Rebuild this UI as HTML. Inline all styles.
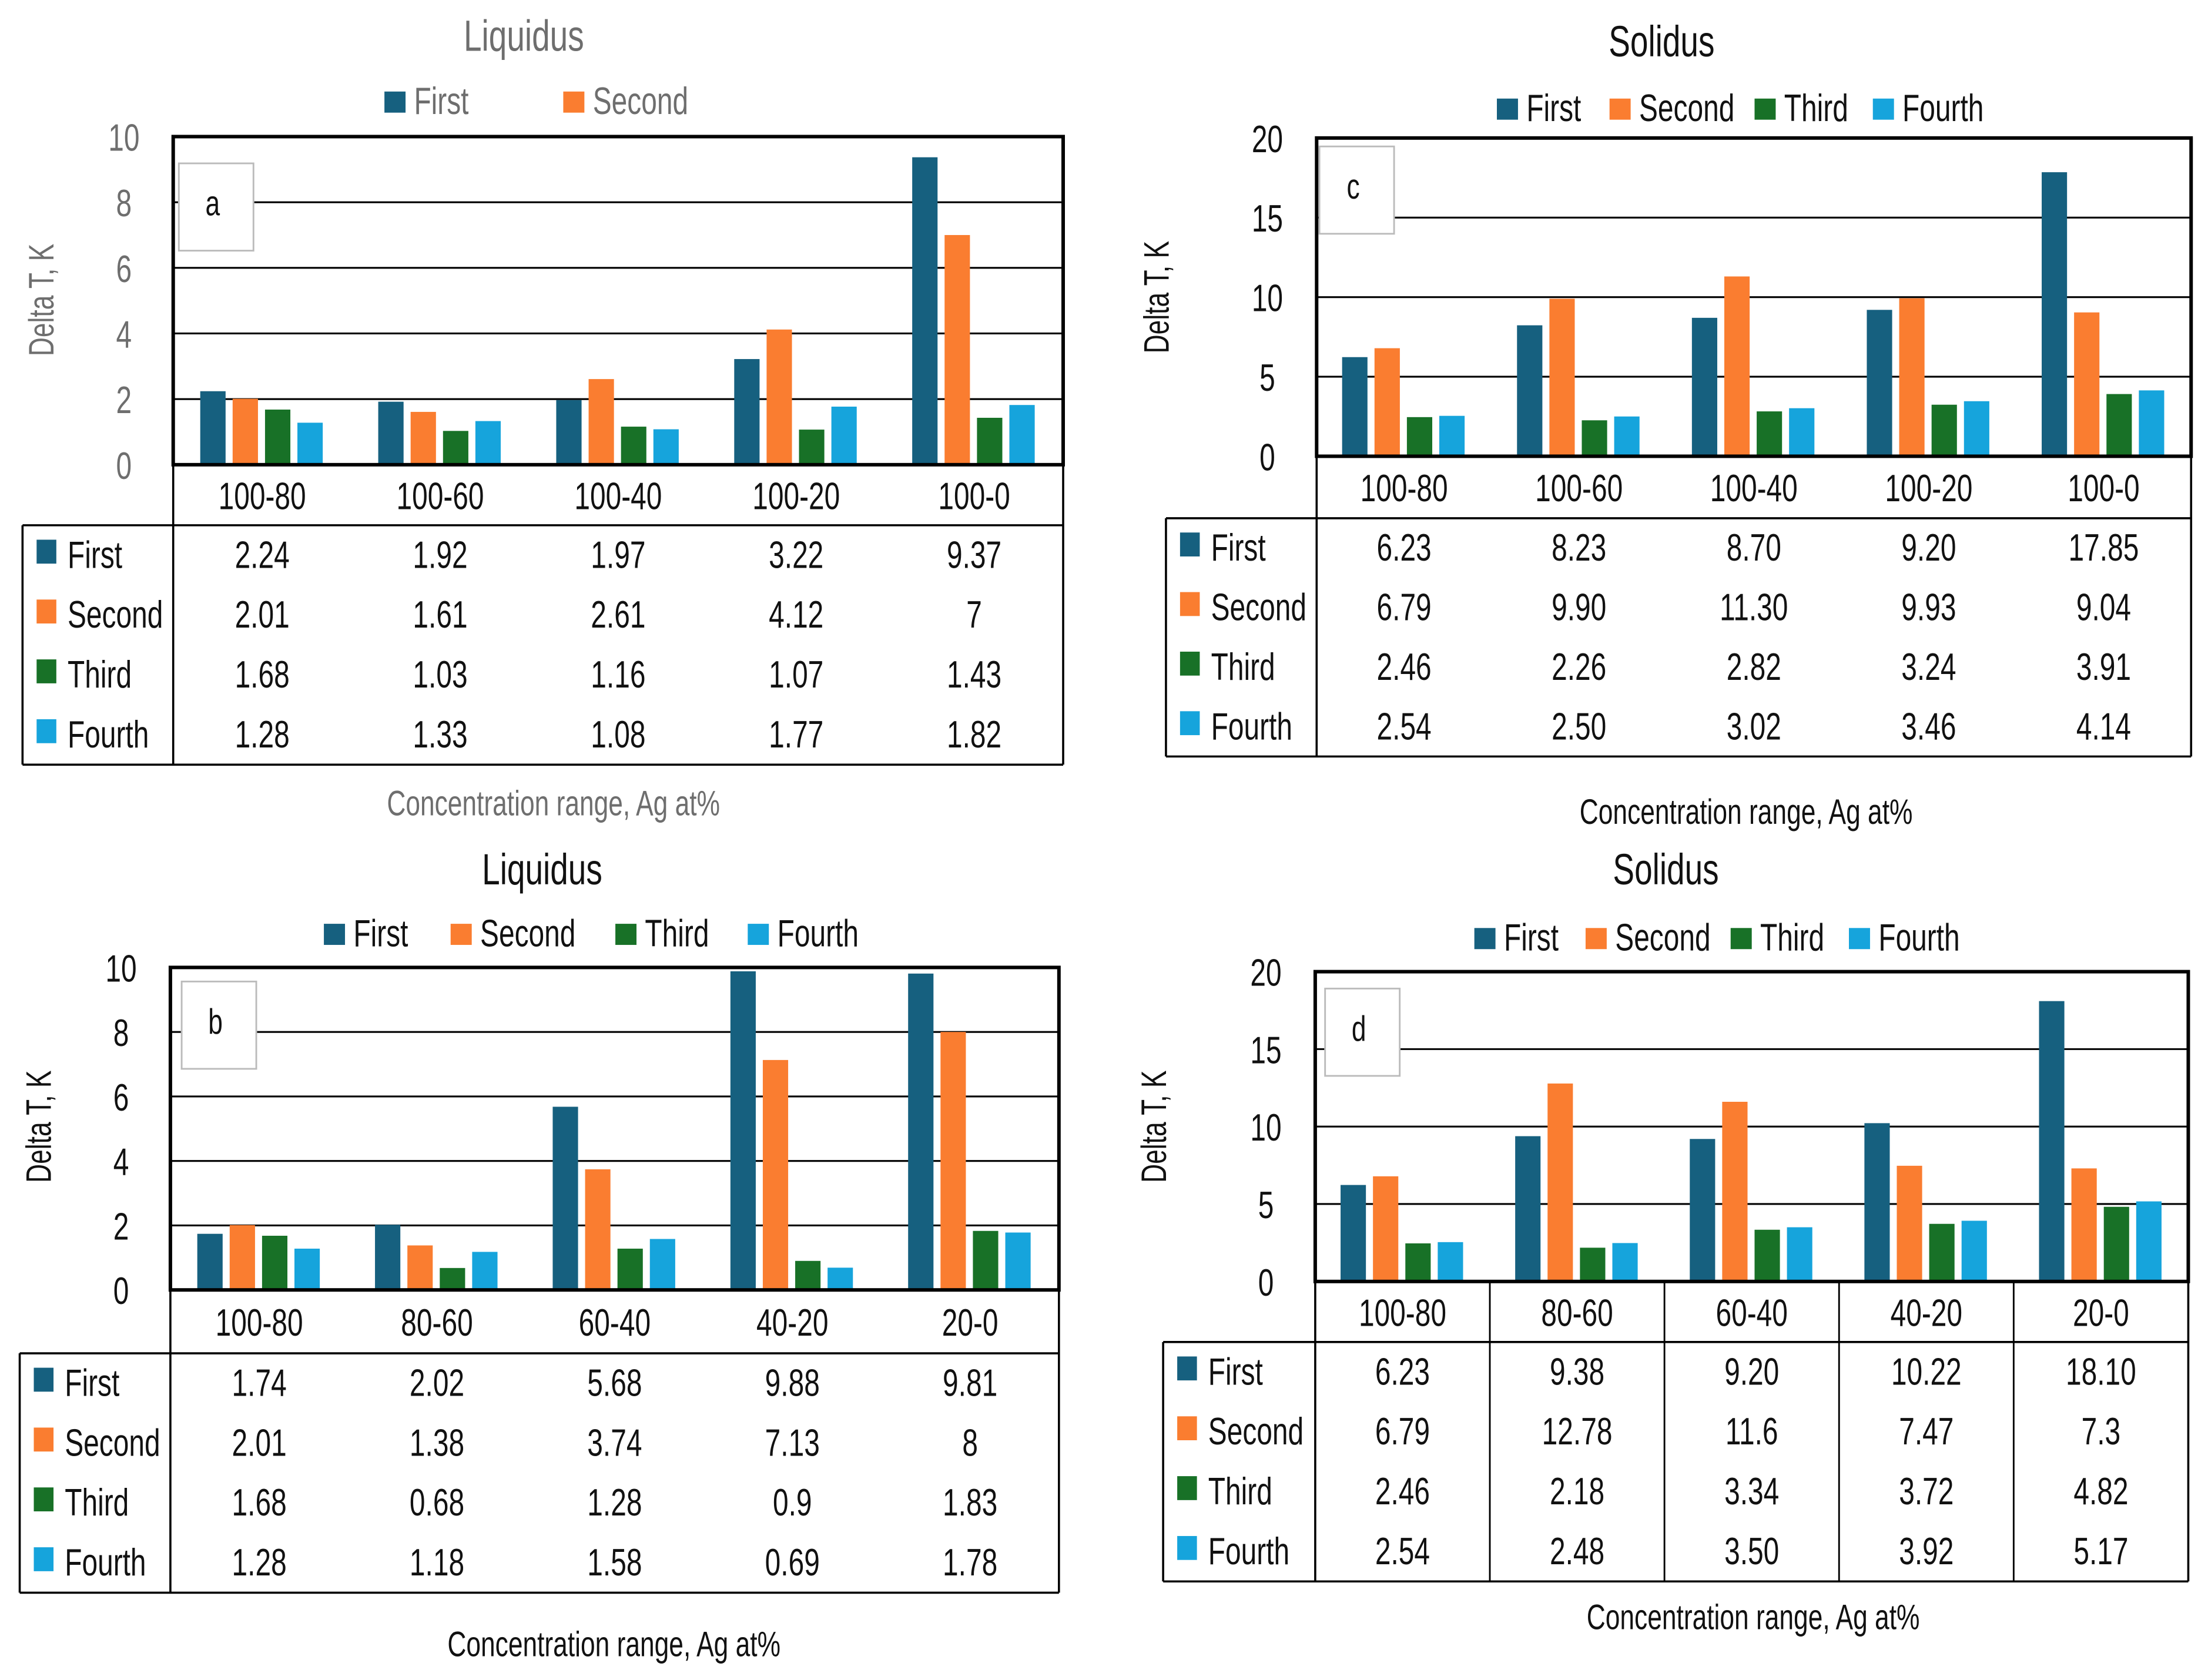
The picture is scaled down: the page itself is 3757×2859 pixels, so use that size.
<!DOCTYPE html>
<html><head><meta charset="utf-8"><style>
html,body{margin:0;padding:0;background:#fff;}
svg{display:block;}
text{font-family:"Liberation Sans Narrow","Liberation Sans",sans-serif;}
</style></head><body>
<svg id="root" width="3757" height="2859" viewBox="0 0 1568 1193" preserveAspectRatio="none" xmlns="http://www.w3.org/2000/svg"></svg>
<script>
const seriesNames = ["First","Second","Third","Fourth"];
const colors = ["#16607f","#fa7d30","#187127","#16a4dc"];

const catsA = ["100-80","100-60","100-40","100-20","100-0"];
const firstA = [2.24,1.92,1.97,3.22,9.37];
const secondA = [2.01,1.61,2.61,4.12,7];
const thirdA = [1.68,1.03,1.16,1.07,1.43];
const fourthA = [1.28,1.33,1.08,1.77,1.82];
const labelsA = [["2.24","1.92","1.97","3.22","9.37"],["2.01","1.61","2.61","4.12","7"],["1.68","1.03","1.16","1.07","1.43"],["1.28","1.33","1.08","1.77","1.82"]];

const catsB = ["100-80","80-60","60-40","40-20","20-0"];
const firstB = [1.74,2.02,5.68,9.88,9.81];
const secondB = [2.01,1.38,3.74,7.13,8];
const thirdB = [1.68,0.68,1.28,0.9,1.83];
const fourthB = [1.28,1.18,1.58,0.69,1.78];
const labelsB = [["1.74","2.02","5.68","9.88","9.81"],["2.01","1.38","3.74","7.13","8"],["1.68","0.68","1.28","0.9","1.83"],["1.28","1.18","1.58","0.69","1.78"]];

const catsC = ["100-80","100-60","100-40","100-20","100-0"];
const firstC = [6.23,8.23,8.70,9.20,17.85];
const secondC = [6.79,9.90,11.30,9.93,9.04];
const thirdC = [2.46,2.26,2.82,3.24,3.91];
const fourthC = [2.54,2.50,3.02,3.46,4.14];
const labelsC = [["6.23","8.23","8.70","9.20","17.85"],["6.79","9.90","11.30","9.93","9.04"],["2.46","2.26","2.82","3.24","3.91"],["2.54","2.50","3.02","3.46","4.14"]];

const catsD = ["100-80","80-60","60-40","40-20","20-0"];
const firstD = [6.23,9.38,9.20,10.22,18.10];
const secondD = [6.79,12.78,11.6,7.47,7.3];
const thirdD = [2.46,2.18,3.34,3.72,4.82];
const fourthD = [2.54,2.48,3.50,3.92,5.17];
const labelsD = [["6.23","9.38","9.20","10.22","18.10"],["6.79","12.78","11.6","7.47","7.3"],["2.46","2.18","3.34","3.72","4.82"],["2.54","2.48","3.50","3.92","5.17"]];

const ticks10 = [0,2,4,6,8,10];
const ticks20 = [0,5,10,15,20];

const NS="http://www.w3.org/2000/svg";
const root=document.getElementById('root');
const SX=0.74;
function mk(tag,attrs,parent,txt){const e=document.createElementNS(NS,tag);for(const k in attrs)e.setAttribute(k,attrs[k]);if(txt!==undefined)e.textContent=txt;(parent||root).appendChild(e);return e;}
function tx(x,y,s,size,fill,anchor,parent,rot){
  const tr=rot?`translate(${x},${y}) rotate(-90) scale(${SX},1)`:`translate(${x},${y}) scale(${SX},1)`;
  return mk('text',{x:0,y:0,transform:tr,'font-size':size,fill:fill,'text-anchor':anchor||'start'},parent,s);
}

function panel(p){
  const g=mk('g',{});
  
  
  const tc=p.gray?'#6e6e6e':'#111';
  const t=tx(p.titleX,p.titleY,p.title,31,tc,'middle',g);
  
  
  const lg=mk('g',{},g);
  
  
  p.legend.forEach((it,i)=>{
    const e=mk('g',{},lg);
    
    
    const lx=p.legX[i];
    mk('rect',{x:lx,y:p.legY-16,width:15,height:15,fill:colors[it]},e);
    tx(lx+21,p.legY,seriesNames[it],27,tc,'start',e);
  });
  const x0=p.x0,x1=p.x1,y0=p.y0,y1=p.y1,max=p.max;
  const cw=(x1-x0)/5;
  const ys=v=>y1-(v/max)*(y1-y0);
  p.ticks.forEach(v=>{
    if(v>0&&v<max){const l=mk('line',{x1:x0,x2:x1,y1:ys(v),y2:ys(v),stroke:'#000','stroke-width':1.3},g);
      }
    const tt=tx(x0-35,ys(v)+10,String(v),27,tc,'middle',g);
    
  });
  const lb=mk('g',{},g);
  
  
  mk('rect',{x:p.lbl[0],y:p.lbl[1],width:53,height:62,fill:'#fff',stroke:'#bbb','stroke-width':1.2},lb);
  tx(p.lbl[0]+24,p.lbl[1]+37,p.id,25,'#111','middle',lb);
  p.series.forEach((arr,si)=>{
    arr.forEach((v,ci)=>{
      const cx=x0+cw*(ci+0.5);
      const bx=cx-44+si*23;
      const r=mk('rect',{x:bx,y:ys(v),width:18,height:y1-ys(v),fill:colors[si]},g);
      
      
    });
  });
  mk('rect',{x:x0,y:y0,width:x1-x0,height:y1-y0,fill:'none',stroke:'#000','stroke-width':2.5},g);
  const tb=mk('g',{},g);
  
  
  const tl=p.tl, hr=p.hdr, rh=p.rh;
  const bottom=hr+4*rh;
  mk('line',{x1:x0,x2:x0,y1:y1,y2:bottom,stroke:'#000','stroke-width':1.5},tb);
  mk('line',{x1:x1,x2:x1,y1:y1,y2:bottom,stroke:'#000','stroke-width':1.5},tb);
  mk('line',{x1:tl,x2:x1,y1:hr,y2:hr,stroke:'#000','stroke-width':1.5},tb);
  mk('line',{x1:tl,x2:x1,y1:bottom,y2:bottom,stroke:'#000','stroke-width':1.5},tb);
  mk('line',{x1:tl,x2:tl,y1:hr,y2:bottom,stroke:'#000','stroke-width':1.5},tb);
  if(p.vsep){for(let i=1;i<5;i++)mk('line',{x1:x0+cw*i,x2:x0+cw*i,y1:y1,y2:bottom,stroke:'#000','stroke-width':1.2},tb);}
  p.cats.forEach((c,ci)=>{
    const ct=tx(x0+cw*(ci+0.5),(y1+hr)/2+10,c,27,'#111','middle',tb);
    
  });
  seriesNames.forEach((n,si)=>{
    const cy=hr+rh*(si+0.5);
    mk('rect',{x:tl+10,y:cy-11,width:14,height:17,fill:colors[si]},tb);
    tx(tl+32,cy+9,n,27,'#111','start',tb);
    p.labels[si].forEach((lv,ci)=>{
      tx(x0+cw*(ci+0.5),cy+9,lv,27,'#111','middle',tb);
    });
  });
  const xt=tx(p.xtX,p.xtY,'Concentration range, Ag at%',25,tc,'middle',g);
  
  const yt=tx(p.ytX,p.ytY,'Delta T, K',25,tc,'middle',g,true);
  
}

panel({id:'a',gray:true,title:'Liquidus',titleX:372,titleY:36,legend:[0,1],legX:[273,400],legY:81,
  x0:123,x1:755,y0:97,y1:330,max:10,ticks:ticks10,lbl:[127,116],cats:catsA,
  series:[firstA,secondA,thirdA,fourthA],labels:labelsA,tl:16,hdr:373,rh:42.5,vsep:false,
  xtX:393,xtY:579,ytX:38,ytY:213});
panel({id:'c',gray:false,title:'Solidus',titleX:1180,titleY:40,legend:[0,1,2,3],legX:[1063,1143,1246,1330],legY:86,
  x0:935,x1:1556,y0:98,y1:324,max:20,ticks:ticks20,lbl:[937,104],cats:catsC,
  series:[firstC,secondC,thirdC,fourthC],labels:labelsC,tl:828,hdr:368,rh:42.3,vsep:false,
  xtX:1240,xtY:585,ytX:830,ytY:211});
panel({id:'b',gray:false,title:'Liquidus',titleX:385,titleY:628,legend:[0,1,2,3],legX:[230,320,437,531],legY:672,
  x0:121,x1:752,y0:687,y1:916,max:10,ticks:ticks10,lbl:[129,697],cats:catsB,
  series:[firstB,secondB,thirdB,fourthB],labels:labelsB,tl:14,hdr:961,rh:42.5,vsep:false,
  xtX:436,xtY:1176,ytX:36,ytY:800});
panel({id:'d',gray:false,title:'Solidus',titleX:1183,titleY:628,legend:[0,1,2,3],legX:[1047,1126,1229,1313],legY:675,
  x0:934,x1:1554,y0:690,y1:910,max:20,ticks:ticks20,lbl:[941,702],cats:catsD,
  series:[firstD,secondD,thirdD,fourthD],labels:labelsD,tl:826,hdr:953,rh:42.5,vsep:true,
  xtX:1245,xtY:1157,ytX:828,ytY:800});
</script>
</body></html>
